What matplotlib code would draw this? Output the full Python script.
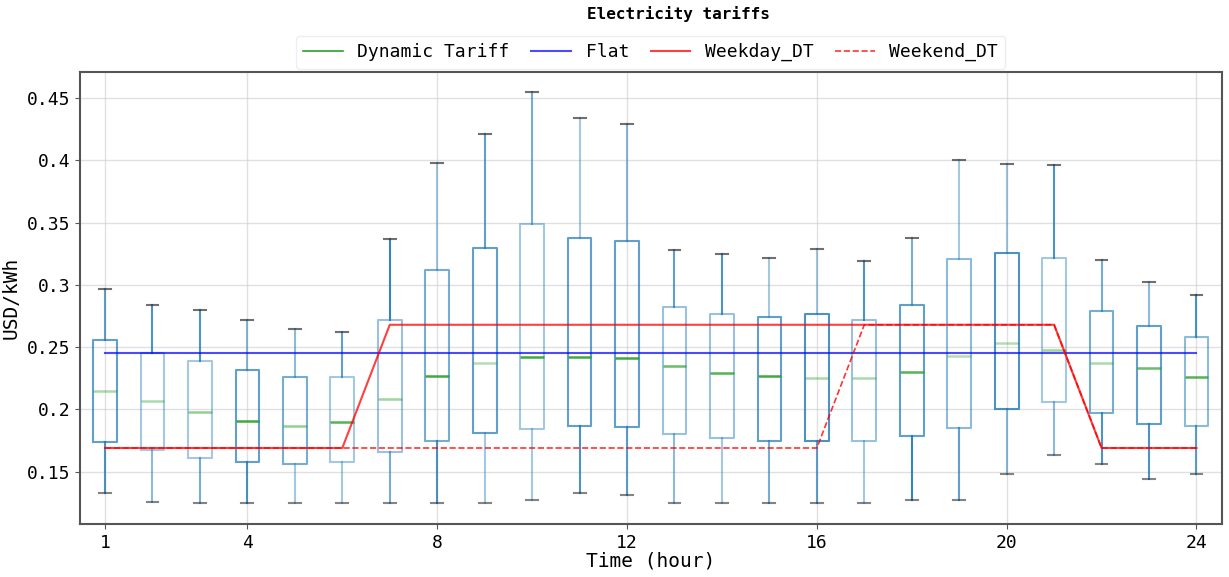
import numpy as np
import matplotlib
matplotlib.use("Agg")
import matplotlib.pyplot as plt

plt.rcParams['font.family'] = ['DejaVu Sans Mono', 'DejaVu Sans']

hours = list(range(1, 25))
whislo = [0.133, 0.126, 0.125, 0.125, 0.125, 0.125, 0.125, 0.125, 0.125, 0.127, 0.133, 0.131,
          0.125, 0.125, 0.125, 0.125, 0.125, 0.127, 0.127, 0.148, 0.163, 0.156, 0.144, 0.148]
q1 = [0.174, 0.167, 0.161, 0.158, 0.156, 0.158, 0.166, 0.175, 0.181, 0.184, 0.187, 0.186,
      0.180, 0.177, 0.175, 0.175, 0.175, 0.179, 0.185, 0.200, 0.206, 0.197, 0.188, 0.187]
med = [0.215, 0.207, 0.198, 0.191, 0.187, 0.190, 0.208, 0.227, 0.237, 0.242, 0.242, 0.241,
       0.235, 0.229, 0.227, 0.225, 0.225, 0.230, 0.243, 0.253, 0.248, 0.237, 0.233, 0.226]
q3 = [0.256, 0.245, 0.239, 0.232, 0.226, 0.226, 0.272, 0.312, 0.330, 0.349, 0.338, 0.335,
      0.282, 0.277, 0.274, 0.277, 0.272, 0.284, 0.321, 0.326, 0.322, 0.279, 0.267, 0.258]
whishi = [0.297, 0.284, 0.280, 0.272, 0.265, 0.262, 0.337, 0.398, 0.421, 0.455, 0.434, 0.429,
          0.328, 0.325, 0.322, 0.329, 0.319, 0.338, 0.400, 0.397, 0.396, 0.320, 0.302, 0.292]

flat = [0.245] * 24
weekday_dt = [0.169] * 6 + [0.268] * 15 + [0.169] * 3
weekend_dt = [0.169] * 16 + [0.268] * 5 + [0.169] * 3

# per-box transparency
box_alpha = [0.7, 0.4, 0.4, 0.7, 0.6, 0.4, 0.45, 0.6, 0.7, 0.4, 0.7, 0.7,
             0.45, 0.45, 0.7, 0.8, 0.45, 0.7, 0.5, 0.8, 0.4, 0.6, 0.7, 0.5]
med_alpha = [0.4, 0.4, 0.5, 0.9, 0.5, 0.8, 0.45, 0.9, 0.35, 0.9, 0.9, 0.9,
             0.7, 0.8, 0.9, 0.4, 0.4, 0.8, 0.35, 0.35, 0.45, 0.4, 0.7, 0.8]
whis_alpha = [0.7, 0.8, 0.8, 0.5, 0.5, 0.7, 0.9, 0.4, 0.7, 0.6, 0.4, 0.5,
              0.7, 0.8, 0.4, 0.4, 0.8, 0.6, 0.4, 0.4, 0.8, 0.6, 0.5, 0.8]

stats = []
for i in range(24):
    stats.append({'whislo': whislo[i], 'q1': q1[i], 'med': med[i], 'q3': q3[i],
                  'whishi': whishi[i], 'fliers': []})

fig = plt.figure(figsize=(12.29, 5.77), dpi=100)
ax = fig.add_axes([0.065, 0.092, 0.929, 0.783])

bp = ax.bxp(stats, positions=hours, widths=0.5, showfliers=False,
            boxprops=dict(color='#1f77b4', linewidth=1.5),
            whiskerprops=dict(color='#1f77b4', linewidth=1.5),
            capprops=dict(color='#333333', linewidth=1.5),
            medianprops=dict(color='#2ca02c', linewidth=1.8))
for i in range(24):
    bp['boxes'][i].set_alpha(box_alpha[i])
    bp['medians'][i].set_alpha(med_alpha[i])
    bp['whiskers'][2 * i].set_alpha(whis_alpha[::-1][i])
    bp['whiskers'][2 * i + 1].set_alpha(whis_alpha[i])
    bp['caps'][2 * i].set_alpha(0.6)
    bp['caps'][2 * i + 1].set_alpha(0.7)

ax.plot([], [], color='#2ca02c', lw=1.2, label='Dynamic Tariff')
ax.plot(hours, flat, color='blue', lw=1.5, alpha=0.7, label='Flat')
ax.plot(hours, weekend_dt, color='red', lw=1.2, ls='--', alpha=0.8, label='Weekend_DT', zorder=3)
ax.plot(hours, weekday_dt, color='red', lw=1.5, alpha=0.75, label='Weekday_DT', zorder=4)

handles, labels = ax.get_legend_handles_labels()
order = [0, 1, 3, 2]
ax.legend([handles[k] for k in order], [labels[k] for k in order], loc='lower center',
          bbox_to_anchor=(0.5, 1.0), ncol=4, fontsize=13, borderaxespad=0.2,
          handlelength=2.2, columnspacing=1.2, framealpha=1, edgecolor='#eeeeee')

ax.set_xlim(0.47, 24.53)
ax.set_ylim(0.108, 0.471)
ax.set_xticks([1, 4, 8, 12, 16, 20, 24])
ax.set_xticklabels(['1', '4', '8', '12', '16', '20', '24'])
ax.set_yticks([0.15, 0.2, 0.25, 0.3, 0.35, 0.4, 0.45])
ax.set_yticklabels(['0.15', '0.2', '0.25', '0.3', '0.35', '0.4', '0.45'])
ax.tick_params(labelsize=13, color='#555555')
ax.grid(True, color='#cccccc', lw=1, alpha=0.6)
ax.set_axisbelow(True)
for s in ax.spines.values():
    s.set_color('#555555')
    s.set_linewidth(1.5)

ax.set_xlabel('Time (hour)', fontsize=14, labelpad=0)
ax.set_ylabel('USD/kWh', fontsize=14, labelpad=4)
fig.text(0.552, 0.975, 'Electricity tariffs', ha='center', va='center',
         fontsize=11.5, fontweight='bold')

fig.savefig('out.png', dpi=100)
